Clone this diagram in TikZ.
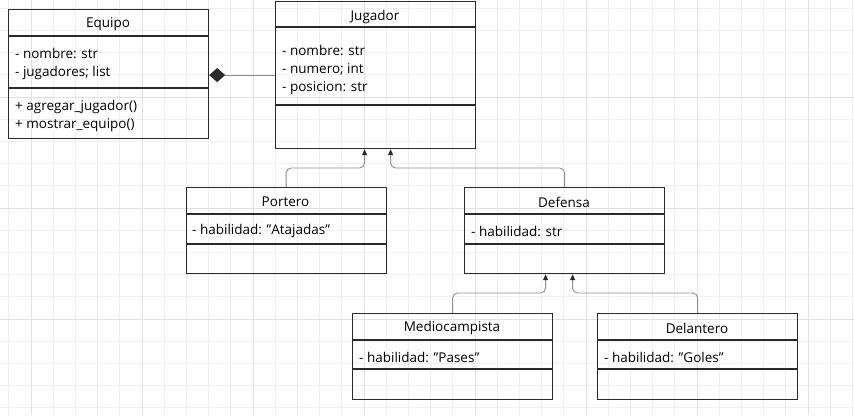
\documentclass[tikz,border=0pt]{standalone}
\usepackage{fontspec}
\setmainfont{Open Sans}
\usetikzlibrary{arrows.meta}

\definecolor{boxline}{HTML}{2A2A2A}
\definecolor{linkgray}{HTML}{8E8E8E}
\definecolor{gridminor}{HTML}{F0F0F0}
\definecolor{gridmajor}{HTML}{E2E2E2}

\begin{document}
\begin{tikzpicture}[x=1pt,y=-1pt,
    umlbox/.style={draw=boxline,line width=1.2pt,minimum width=200pt,inner sep=0pt,anchor=north west},
    divider/.style={draw=boxline,line width=1.2pt},
    title/.style={font=\fontsize{13.5}{16}\selectfont,text=black,inner sep=0pt},
    members/.style={font=\fontsize{13.5}{18}\selectfont,text=black,align=left,anchor=west,inner sep=0pt},
    inherit/.style={draw=linkgray,line width=0.9pt,rounded corners=5pt,
      -{Triangle[length=6pt,width=5pt,fill=boxline,color=boxline]}},
    composite/.style={draw=linkgray,line width=0.9pt,
      -{Diamond[length=16pt,width=14pt,fill=boxline,color=boxline]}}]

    \useasboundingbox[fill=white] (0,0) rectangle (854,415);   % canvas
    \foreach \x in {8.8,31,...,854} \draw[gridminor,line width=0.8pt] (\x,0) -- (\x,415);   % grid
    \foreach \y in {8.2,30.4,...,415} \draw[gridminor,line width=0.8pt] (0,\y) -- (854,\y);
    \foreach \x in {31,142,...,854} \draw[gridmajor,line width=0.9pt] (\x,0) -- (\x,415);
    \foreach \y in {97,208,319} \draw[gridmajor,line width=0.9pt] (0,\y) -- (854,\y);

    % Equipo
    \node[umlbox,minimum height=129pt] (equipo) at (8,9) {};
    \draw[divider] (equipo.west |- 0,36) -- (equipo.east |- 0,36);
    \draw[divider] (equipo.west |- 0,88) -- (equipo.east |- 0,88);
    \node[title] (equipo-name) at (108,24.5) {Equipo};
    \node[members] (equipo-attr) at (15,64) {- nombre: str\\- jugadores; list};
    \node[members] (equipo-ops) at (15,116) {+ agregar\_jugador()\\+ mostrar\_equipo()};

    % Jugador
    \node[umlbox,minimum height=147pt] (jugador) at (275,1) {};
    \draw[divider] (jugador.west |- 0,27) -- (jugador.east |- 0,27);
    \draw[divider] (jugador.west |- 0,105) -- (jugador.east |- 0,105);
    \node[title] (jugador-name) at (375,16.5) {Jugador};
    \node[members] (jugador-attr) at (282,69.5) {- nombre: str\\- numero; int\\- posicion: str};

    % Portero
    \node[umlbox,minimum height=86pt] (portero) at (185.5,187) {};
    \draw[divider] (portero.west |- 0,214) -- (portero.east |- 0,214);
    \draw[divider] (portero.west |- 0,244) -- (portero.east |- 0,244);
    \node[title] (portero-name) at (285.5,202) {Portero};
    \node[members] (portero-attr) at (192,231) {- habilidad: \symbol{34}Atajadas\symbol{34}};

    % Defensa
    \node[umlbox,minimum height=86pt] (defensa) at (464,187) {};
    \draw[divider] (defensa.west |- 0,214) -- (defensa.east |- 0,214);
    \draw[divider] (defensa.west |- 0,244) -- (defensa.east |- 0,244);
    \node[title] (defensa-name) at (564,202) {Defensa};
    \node[members] (defensa-attr) at (471,231) {- habilidad: str};

    % Mediocampista
    \node[umlbox,minimum height=86pt] (medio) at (352,313) {};
    \draw[divider] (medio.west |- 0,340) -- (medio.east |- 0,340);
    \draw[divider] (medio.west |- 0,369) -- (medio.east |- 0,369);
    \node[title] (medio-name) at (452,328) {Mediocampista};
    \node[members] (medio-attr) at (359,357) {- habilidad: \symbol{34}Pases\symbol{34}};

    % Delantero
    \node[umlbox,minimum height=86pt] (delantero) at (597,313) {};
    \draw[divider] (delantero.west |- 0,340) -- (delantero.east |- 0,340);
    \draw[divider] (delantero.west |- 0,369) -- (delantero.east |- 0,369);
    \node[title] (delantero-name) at (697,328) {Delantero};
    \node[members] (delantero-attr) at (604,357) {- habilidad: \symbol{34}Goles\symbol{34}};

    % Relations
    \draw[composite] (jugador.west) -- (jugador.west -| equipo.east);
    \draw[inherit] (portero.north) -- ++(0,-19) -| ([xshift=-11pt]jugador.south);
    \draw[inherit] (defensa.north) -- ++(0,-19) -| ([xshift=15pt]jugador.south);
    \draw[inherit] (medio.north) -- ++(0,-20) -| ([xshift=-19pt]defensa.south);
    \draw[inherit] (delantero.north) -- ++(0,-20) -| ([xshift=8pt]defensa.south);

\end{tikzpicture}
\end{document}
